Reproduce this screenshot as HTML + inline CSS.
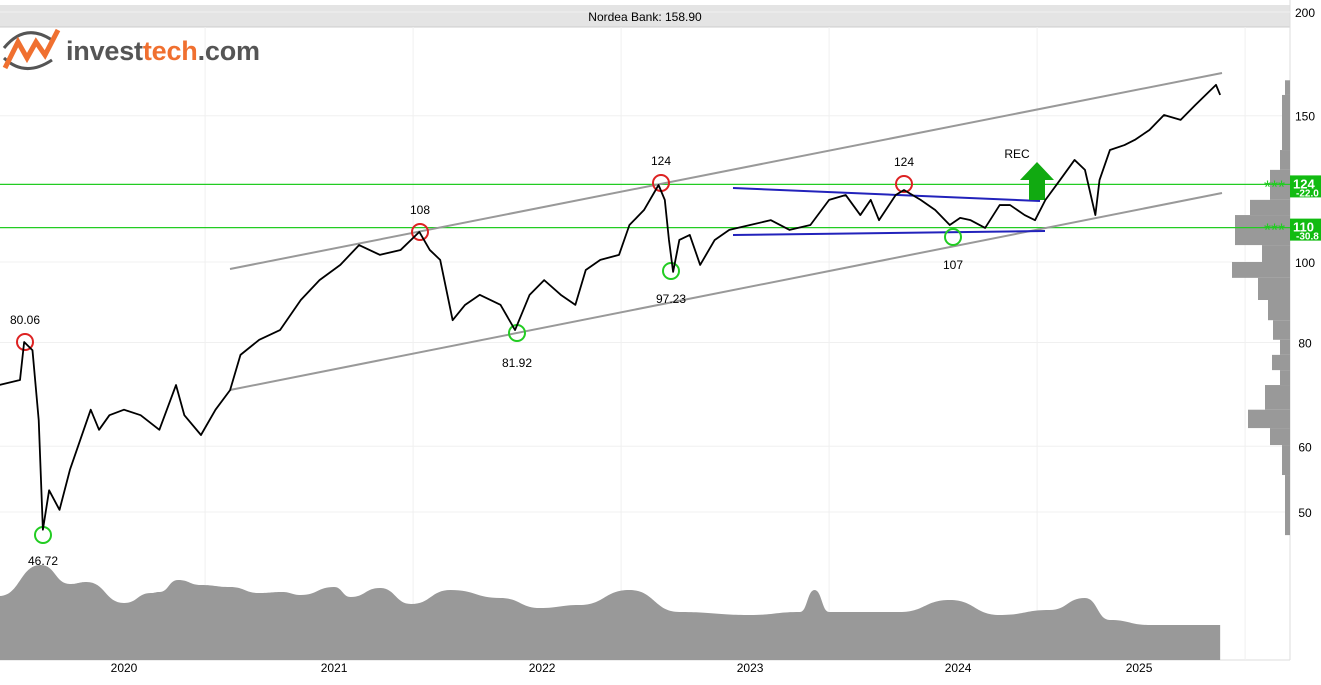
<!DOCTYPE html>
<html><head><meta charset="utf-8"><style>
body{margin:0;background:#fff;width:1321px;height:680px;overflow:hidden;font-family:"Liberation Sans",sans-serif}
svg text{font-family:"Liberation Sans",sans-serif}
</style></head><body>
<svg id="c" width="1321" height="680">
<rect x="0" y="5" width="1290" height="22" fill="#e4e4e4"/>
<line x1="0" y1="27" x2="1290" y2="27" stroke="#ccc"/>
<text x="645" y="21" font-size="12" text-anchor="middle" fill="#000">Nordea Bank: 158.90</text>
<line x1="1290" y1="0" x2="1290" y2="660" stroke="#ddd"/>
<line x1="0" y1="660" x2="1290" y2="660" stroke="#ddd"/>
<g>
<path d="M4,48 Q25,22 52,40" stroke="#555" stroke-width="3" fill="none"/>
<path d="M4,58 Q25,78 52,60" stroke="#555" stroke-width="3" fill="none"/>
<polyline points="5,68 18,42 27,58 36,42 45,55 58,30" stroke="#f07030" stroke-width="5" fill="none"/>
<text x="66" y="60" font-size="27" font-weight="bold" fill="#555" textLength="194">invest<tspan fill="#f07030">tech</tspan>.com</text>
</g>
<g id="grid"></g><g id="vol"></g><g id="prof"></g><g id="ann"></g><g id="line"></g><g id="axes"></g>
</svg>
<script>
const dates=[2019.40,2019.50,2019.52,2019.56,2019.59,2019.61,2019.64,2019.69,2019.74,2019.79,2019.84,2019.88,2019.93,2020.00,2020.08,2020.17,2020.25,2020.29,2020.37,2020.44,2020.51,2020.56,2020.65,2020.75,2020.85,2020.94,2021.04,2021.13,2021.23,2021.33,2021.42,2021.47,2021.52,2021.58,2021.64,2021.71,2021.81,2021.88,2021.95,2022.02,2022.10,2022.17,2022.22,2022.29,2022.38,2022.43,2022.50,2022.57,2022.60,2022.62,2022.64,2022.67,2022.72,2022.77,2022.84,2022.91,2023.01,2023.11,2023.20,2023.30,2023.39,2023.47,2023.54,2023.59,2023.63,2023.71,2023.75,2023.83,2023.90,2023.97,2024.02,2024.07,2024.14,2024.21,2024.26,2024.33,2024.38,2024.43,2024.50,2024.57,2024.62,2024.67,2024.69,2024.74,2024.81,2024.86,2024.93,2025.00,2025.08,2025.15,2025.20,2025.25,2025.27];
const prices=[71.1,72.1,80.1,78.3,64.5,47.6,53.1,50.3,56.2,61.1,66.4,62.8,65.4,66.4,65.4,62.8,71.1,65.4,61.9,66.4,70.1,77.3,80.6,82.8,90.0,95.1,99.2,104.8,102.0,103.4,108.7,103.4,100.6,85.1,88.8,91.3,88.8,82.8,91.3,95.1,91.3,88.8,97.8,100.6,102.0,110.8,115.5,123.8,118.8,106.3,97.3,106.3,107.8,99.2,106.3,109.3,110.8,112.3,109.3,110.8,118.8,120.4,113.9,118.8,112.3,120.4,122.1,118.8,115.5,110.8,113.0,112.3,109.9,117.1,117.1,113.9,112.3,118.8,125.5,132.7,129.1,113.9,125.5,136.4,138.3,140.3,144.2,150.3,148.3,154.5,158.9,163.4,158.9];
const volDates=[2019.40,2019.60,2019.74,2019.82,2020.00,2020.13,2020.17,2020.26,2020.37,2020.51,2020.65,2020.76,2020.85,2021.01,2021.09,2021.23,2021.38,2021.57,2021.81,2022.00,2022.19,2022.43,2022.67,2023.01,2023.25,2023.32,2023.39,2023.73,2023.97,2024.21,2024.45,2024.62,2024.74,2024.93,2025.27];
const volumes=[64,95,76,78,57,67,68,80,75,73,67,68,65,73,63,72,56,70,62,52,55,70,48,45,48,70,48,48,60,45,50,62,40,35,35];
const profEdges=[165.5,158.9,136.4,129.1,118.8,113.9,104.8,100,95.7,90.0,85.1,80.6,77.3,74.1,71.1,66.4,63.1,60.2,55.4,46.9];
const profVols=[5,8,10,20,40,55,28,58,32,22,17,10,18,10,25,42,20,8,5];
const yTicks=[200,150,100,80,60,50];
const xTicks=[2020.0,2021.01,2022.01,2023.01,2024.01,2024.88];
const xLabels=["2020","2021","2022","2023","2024","2025"];
const gridDates=[2020.39,2021.39,2022.39,2023.39,2024.39,2025.39];
const NS="http://www.w3.org/2000/svg";
const X=t=>124+(t-2020)*208;
const Y=p=>262-Math.log(p/100)*360.7;
const VY=v=>660-v;
function mk(tag,attrs,parent){const e=document.createElementNS(NS,tag);for(const k in attrs)e.setAttribute(k,attrs[k]);document.getElementById(parent).appendChild(e);return e;}
yTicks.forEach(v=>{const l=mk('line',{x1:0,x2:1290,y1:Y(v),y2:Y(v),stroke:'#f0f0f0'},'grid');


const t=mk('text',{x:1305,y:Y(v)+5,'font-size':12,'text-anchor':'middle'},'axes');t.textContent=v;

});
gridDates.forEach(d=>{const l=mk('line',{x1:X(d),x2:X(d),y1:27,y2:660,stroke:'#f0f0f0'},'grid');

});
xTicks.forEach((d,i)=>{const t=mk('text',{x:X(d),y:672,'font-size':12,'text-anchor':'middle'},'axes');t.textContent=xLabels[i];

});
// smooth volume area
const vpts=volDates.map((d,i)=>[X(d),VY(volumes[i])]);
let vp='M'+vpts[0][0]+',660 L'+vpts[0][0]+','+vpts[0][1]+' ';
for(let i=1;i<vpts.length;i++){const a=vpts[i-1],b=vpts[i],mx=(a[0]+b[0])/2;vp+='C'+mx+','+a[1]+' '+mx+','+b[1]+' '+b[0]+','+b[1]+' ';}
vp+='L'+vpts[vpts.length-1][0]+',660Z';
const va=mk('path',{d:vp,fill:'#999'},'vol');


profVols.forEach((w,i)=>{const y1=Y(profEdges[i]),y2=Y(profEdges[i+1]);const r=mk('rect',{x:1290-w,y:y1,width:w,height:y2-y1,fill:'#999'},'prof');

});
function L(x1,y1,x2,y2,c,w,name){const l=mk('line',{x1,y1,x2,y2,stroke:c,'stroke-width':w},'ann');

}
L(0,Y(124),1290,Y(124),'#2c2',1.3,'resistance-124');
L(0,Y(110),1290,Y(110),'#2c2',1.3,'support-110');
L(230,269,1222,73,'#999',2,'upper-channel');
L(230,390,1222,193,'#999',2,'lower-channel');
L(733,188,1040,201,'#22b',2,'rect-top');
L(733,235,1045,231,'#22b',2,'rect-bottom');
const ar=mk('polygon',{points:'1029,200 1045,200 1045,180 1054,180 1037,162 1020,180 1029,180',fill:'#1a1'},'ann');


[[25,342,'r','80.06',0,-22],[420,232,'r','108',0,-22],[661,183,'r','124',0,-22],[904,184,'r','124',0,-22],[43,535,'g','46.72',0,26],[517,333,'g','81.92',0,30],[671,271,'g','97.23',0,28],[953,237,'g','107',0,28]].forEach(a=>{
const c=mk('circle',{cx:a[0],cy:a[1],r:8,fill:'none',stroke:a[2]=='r'?'#d22':'#2c2','stroke-width':2},'ann');


const t=mk('text',{x:a[0],y:a[1]+a[5]+4,'font-size':12,'text-anchor':'middle'},'ann');t.textContent=a[3];

});
const rec=mk('text',{x:1017,y:158,'font-size':12,'text-anchor':'middle'},'ann');rec.textContent='REC';


[[124,'-22.0'],[110,'-30.8']].forEach(a=>{const y=Y(a[0]);
const s=mk('text',{x:1264,y:y+9,'font-size':18,fill:'#2c2'},'axes');s.textContent='***';


const r=mk('rect',{x:1290,y:y-9,width:31,height:22,fill:'#1b1'},'axes');


const t=mk('text',{x:1293,y:y+4,'font-size':13,'font-weight':'bold',fill:'#fff'},'axes');t.textContent=a[0];


const t2=mk('text',{x:1296,y:y+12,'font-size':10,'font-weight':'bold',fill:'#fff'},'axes');t2.textContent=a[1];

});
const pl=mk('polyline',{points:dates.map((d,i)=>X(d)+','+Y(prices[i])).join(' '),fill:'none',stroke:'#000','stroke-width':1.8,'stroke-linejoin':'round'},'line');


</script>
</body></html>
